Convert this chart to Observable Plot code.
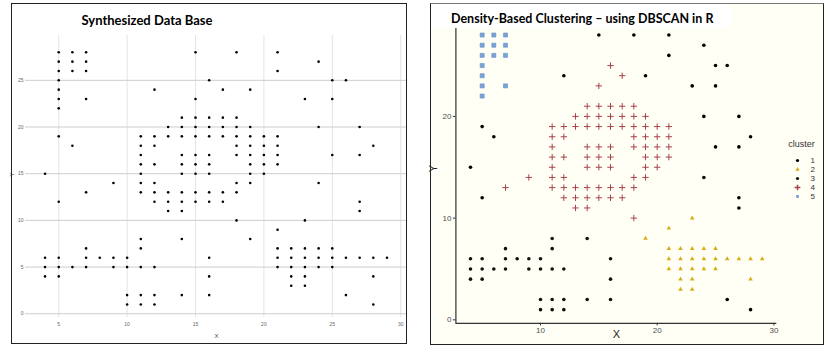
<!DOCTYPE html>
<html><head><meta charset="utf-8">
<script src="https://cdn.jsdelivr.net/npm/d3@7"></script>
<script src="https://cdn.jsdelivr.net/npm/@observablehq/plot@0.6"></script>
<style>
body{margin:0;background:#fff;}
#wrap{position:relative;width:830px;height:349px;overflow:hidden;background:#fff;font-family:"Liberation Sans",Arial,sans-serif;}
.abs{position:absolute;}
.title{font-family:Lato,"Open Sans",sans-serif;font-weight:bold;color:#000;white-space:nowrap;line-height:13px;}
</style></head><body><div id="wrap"></div>
<script>
// ---- data: [X, Y] pairs per DBSCAN cluster ----
const cluster1 = [[15,28],[18,28],[21,28],[24,27],[21,26],[25,25],[26,25],[12,24],[19,24],[23,23],[25,23],[24,20],[27,20],[5,19],[6,18],[28,18],[25,17],[27,17],[4,15],[24,14],[5,12],[27,12],[27,11],[26,2],[28,1]];
const cluster2 = [[23,10],[21,9],[19,8],
  [21,7],[22,7],[23,7],[24,7],[25,7],
  [21,6],[22,6],[23,6],[24,6],[25,6],[26,6],[27,6],[28,6],[29,6],
  [21,5],[22,5],[23,5],[24,5],[25,5],
  [22,4],[23,4],[28,4],[22,3],[23,3]];
const cluster3 = [[11,8],[14,8],[7,7],[11,7],
  [4,6],[5,6],[7,6],[8,6],[9,6],[10,6],[16,6],
  [4,5],[5,5],[6,5],[7,5],[9,5],[10,5],[11,5],[12,5],
  [4,4],[5,4],[16,4],
  [10,2],[11,2],[12,2],[14,2],[16,2],
  [10,1],[11,1],[12,1]];
const cluster4 = [[16,25],[17,24],[15,23],
  [14,21],[15,21],[16,21],[17,21],[18,21],
  [13,20],[14,20],[15,20],[16,20],[17,20],[18,20],[19,20],
  [11,19],[12,19],[13,19],[14,19],[15,19],[16,19],[17,19],[18,19],[19,19],[20,19],[21,19],
  [11,18],[12,18],[18,18],[19,18],[20,18],[21,18],
  [11,17],[14,17],[15,17],[16,17],[18,17],[19,17],[20,17],[21,17],
  [11,16],[12,16],[14,16],[15,16],[16,16],[19,16],[20,16],[21,16],
  [11,15],[14,15],[15,15],[16,15],[19,15],[20,15],
  [9,14],[11,14],[12,14],[18,14],[19,14],
  [7,13],[11,13],[12,13],[13,13],[14,13],[15,13],[16,13],[17,13],[18,13],
  [12,12],[13,12],[14,12],[15,12],[16,12],[17,12],
  [13,11],[14,11],[18,10]];
const cluster5 = [[5,28],[6,28],[7,28],[5,27],[6,27],[7,27],[5,26],[6,26],[7,26],[5,25],[5,24],[5,23],[7,23],[5,22]];

const clusterKeys = ["1","2","3","4","5"];
const clusterColors = ["#000000","#d6ae16","#111111","#a8434b","#7aa2d4"];
const clusterSymbols = ["circle","triangle","circle","plus","square"];

const leftTitle = "Synthesized Data Base";
const rightTitle = "Density-Based Clustering \u2013 using DBSCAN in R";
const xTicksL = [5,10,15,20,25,30];
const yTicksL = [0,5,10,15,20,25];
const xTicksR = [10,20,30];
const yTicksR = [0,10,20];

const allPts = [...cluster1,...cluster2,...cluster3,...cluster4,...cluster5];
const wrap = document.getElementById("wrap");
function place(el, left, top){ el.style.position="absolute"; el.style.left=left+"px"; el.style.top=top+"px"; wrap.appendChild(el); return el; }
function box(left, top, w, h, css){ const d=document.createElement("div"); d.style.cssText=`position:absolute;left:${left}px;top:${top}px;width:${w}px;height:${h}px;box-sizing:border-box;${css}`; wrap.appendChild(d); return d; }

// ---------- left panel ----------
const left = Plot.plot({
  width:415, height:349, marginLeft:25, marginRight:8, marginTop:35, marginBottom:32,
  style:{background:"transparent", overflow:"visible", fontFamily:"'Liberation Sans',Arial,sans-serif"},
  x:{domain:[2.57,30.5], axis:null}, y:{domain:[-0.4,29.8], axis:null},
  marks:[
    Plot.ruleX(xTicksL, {stroke:"#e4e4e4", strokeWidth:1}),
    Plot.ruleY(yTicksL, {stroke:"#cdcdcd", strokeWidth:1}),
    Plot.text(yTicksL, {y:d=>d, text:d=>String(d), frameAnchor:"left", textAnchor:"end", dx:-2, fontSize:5, fill:"#666"}),
    Plot.text(xTicksL, {x:d=>d, text:d=>String(d), frameAnchor:"bottom", dy:8, fontSize:5, fill:"#666"}),
    Plot.text(["X"], {text:d=>d, frameAnchor:"bottom", dy:20, fontSize:6, fill:"#444"}),
    Plot.text(["Y"], {text:d=>d, frameAnchor:"left", dx:-13, rotate:-90, fontSize:6, fill:"#444"}),
    Plot.dot(allPts, {x:d=>d[0], y:d=>d[1], r:1.3, fill:"#000"})
  ]
});
place(left, 0, 0);
box(11, 3, 396, 341, "border:1.5px solid #222;");
const lt = box(11, 14, 272, 14, "text-align:center;");
lt.className="title"; lt.style.fontSize="13px"; lt.textContent = leftTitle;

// ---------- right panel ----------
box(430, 3, 394, 342, "background:#fffff5;");
const sets = [cluster1, cluster2, cluster3, cluster4, cluster5];
const dotMarks = sets.map((pts,i)=>{
  const sym = clusterSymbols[i], col = clusterColors[i];
  const base = {x:d=>d[0], y:d=>d[1], symbol:sym};
  if (sym==="plus") return Plot.dot(pts, {...base, r:2.2, stroke:col, strokeWidth:1});
  if (sym==="square") return Plot.dot(pts, {...base, r:2.3, fill:col, stroke:"#6690c6", strokeWidth:0.6});
  if (sym==="triangle") return Plot.dot(pts, {...base, r:1.7, fill:col});
  return Plot.dot(pts, {...base, r:1.8, fill:col});
});
const right = Plot.plot({
  width:415, height:349, marginLeft:40.4, marginRight:53.7, marginTop:20.8, marginBottom:26.1,
  style:{background:"transparent", overflow:"visible", fontFamily:"'Liberation Sans',Arial,sans-serif"},
  x:{domain:[2.75,30.25], axis:null}, y:{domain:[-0.35,29.35], axis:null},
  marks:[
    Plot.ruleX([2.75], {stroke:"#333", strokeWidth:1.2}),
    Plot.ruleY([-0.35], {stroke:"#333", strokeWidth:1.2}),
    Plot.axisX({ticks:xTicksR, tickSize:2.5, tickPadding:1, fontSize:8, stroke:"#333", fill:"#4d4d4d", label:null}),
    Plot.axisY({ticks:yTicksR, tickSize:2.5, tickPadding:2, fontSize:8, stroke:"#333", fill:"#4d4d4d", label:null}),
    Plot.text(["X"], {text:d=>d, frameAnchor:"bottom", dy:15, fontSize:11, fill:"#222"}),
    Plot.text(["Y"], {text:d=>d, frameAnchor:"left", dx:-22, rotate:-90, fontSize:11, fill:"#222"}),
    ...dotMarks
  ]
});
place(right, 415, 0);

// legend
const legend = Plot.plot({
  width:45, height:85, margin:0,
  style:{background:"transparent", overflow:"visible", fontFamily:"'Liberation Sans',Arial,sans-serif"},
  y:{type:"point", domain:clusterKeys, range:[23,72.5], axis:null},
  symbol:{domain:clusterKeys, range:clusterSymbols},
  color:{domain:clusterKeys, range:clusterColors},
  marks:[
    Plot.text(["cluster"], {text:d=>d, frameAnchor:"top", dy:10, dx:-1.5, fontSize:9, fill:"#333"}),
    Plot.dot(clusterKeys.filter((k,i)=>clusterSymbols[i]!=="plus"), {y:d=>d, symbol:d=>d, fill:d=>d, r:1.6, dx:-5.5}),
    Plot.dot(clusterKeys.filter((k,i)=>clusterSymbols[i]==="plus"), {y:d=>d, symbol:d=>d, stroke:d=>d, r:2, dx:-5.5}),
    Plot.text(clusterKeys, {y:d=>d, text:d=>d, dx:7.5, textAnchor:"start", fontSize:8, fill:"#333"})
  ]
});
place(legend, 780, 130);

const rtBox = box(431, 4, 300, 24, "background:#fff;");
const rt = box(451, 12, 290, 14, "");
rt.className="title"; rt.style.fontSize="12.5px"; rt.textContent = rightTitle;
box(430, 3, 394, 342, "border:1.5px solid #222;border-top-color:#777;");
</script>
</body></html>
